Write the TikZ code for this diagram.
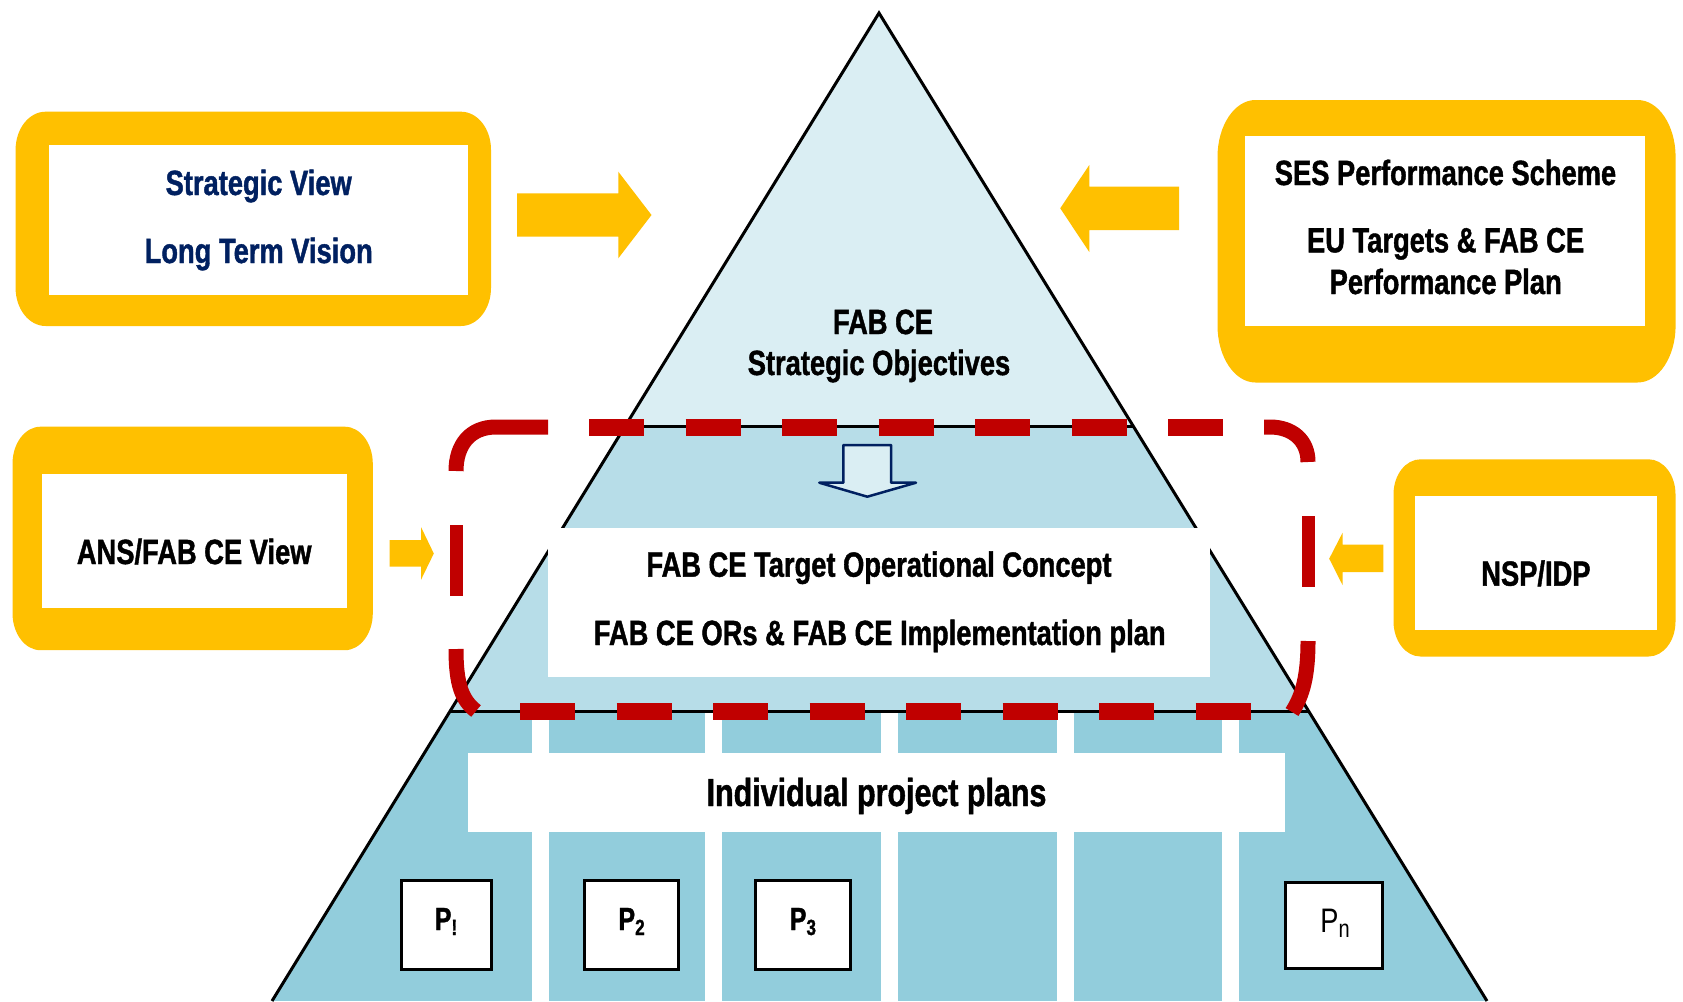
\documentclass[tikz,border=0pt]{standalone}
\usepackage{fontspec}
\setmainfont{Liberation Sans}[FakeStretch=0.78,BoldFeatures={FakeBold=1.2}]
\newfontfamily\pnfont{Liberation Sans}[FakeStretch=0.8]
\definecolor{ycol}{HTML}{FFC000}
\definecolor{rcol}{HTML}{C00000}
\definecolor{navy}{HTML}{002060}
\definecolor{triA}{HTML}{DAEEF3}
\definecolor{triB}{HTML}{B7DDE8}
\definecolor{triC}{HTML}{92CDDC}
% yellow frame with elliptical corners: x1 y1 x2 y2 rx ry
\newcommand\yframe[6]{%
\fill[ycol] ({#1+#5},#2) -- ({#3-#5},#2) .. controls ({#3-0.448*#5},#2) and (#3,{#2+0.448*#6}) .. (#3,{#2+#6})
 -- (#3,{#4-#6}) .. controls (#3,{#4-0.448*#6}) and ({#3-0.448*#5},#4) .. ({#3-#5},#4)
 -- ({#1+#5},#4) .. controls ({#1+0.448*#5},#4) and (#1,{#4-0.448*#6}) .. (#1,{#4-#6})
 -- (#1,{#2+#6}) .. controls (#1,{#2+0.448*#6}) and ({#1+0.448*#5},#2) .. ({#1+#5},#2) -- cycle;}
\newcommand\subb[2]{\raisebox{-#1pt}{\fontsize{22}{22}\selectfont #2}}
\begin{document}
\begin{tikzpicture}[x=1pt,y=-1pt,
  txt/.style={anchor=base, inner sep=0pt, outer sep=0pt, font=\fontsize{35}{40}\selectfont\bfseries},
  wbox/.style={fill=white, inner sep=0pt, outer sep=0pt},
  pbox/.style={draw=black, line width=3pt, fill=white, inner sep=0pt},
  rh/.style={draw=rcol, line width=17pt},
  rv/.style={draw=rcol, line width=13pt},
  rc/.style={draw=rcol, line width=15pt},
  tline/.style={draw=black, line width=3pt},
  yarrow/.style={fill=ycol}]

\useasboundingbox (0,0) rectangle (1683,1001);
\fill[white] (0,0) rectangle (1683,1001);

% pyramid bands
\begin{scope}
\clip (272,1001) -- (879,13) -- (1487,1001) -- cycle;
\fill[triA] (0,0) rectangle (1683,426.5);
\fill[triB] (0,426.5) rectangle (1683,711);
\fill[triC] (0,711) rectangle (1683,1001);
\foreach \a/\b in {532/549,705/722,881/898,1057/1074,1222/1239}
  \fill[white] (\a,712) rectangle (\b,1001);
\draw[tline] (0,426.5) -- (1683,426.5);
\draw[tline] (0,711) -- (1683,711);
\end{scope}
\draw[line width=3pt, line join=miter] (272,1001) -- (879,13) -- (1487,1001);

% inner boxes of the pyramid
\node[wbox, minimum width=662pt, minimum height=149pt] (ops) at (879,602.5) {};
\node[wbox, minimum width=817pt, minimum height=79pt] (ipp) at (876.5,792.5) {};
\node[pbox, minimum width=89.5pt, minimum height=89pt] (p1) at (446.5,924.5) {};
\node[pbox, minimum width=94pt, minimum height=89pt] (p2) at (631.4,924.5) {};
\node[pbox, minimum width=94.7pt, minimum height=89pt] (p3) at (802.9,924.5) {};
\node[pbox, minimum width=96.3pt, minimum height=86pt] (pn) at (1334,925.5) {};

% hollow down arrow
\draw[draw=navy, fill=triA, line width=2.5pt, line join=round]
  (843.3,445) -- (891,445) -- (891,482.7) -- (916,482.7) -- (867.3,496.7)
  -- (819.3,482.7) -- (843.3,482.7) -- cycle;

% red dashed rounded frame
\draw[rc] (456,471) .. controls (456,445) and (470,427) .. (496,427) -- (548,427);
\foreach \a in {589,685.5,782,878.5,975,1071.5,1168} \draw[rh] (\a,427) -- ++(55,0);
\draw[rc] (1264,427) -- (1270,427) .. controls (1292,427) and (1308,440) .. (1308,462);
\draw[rv] (1308,516) -- (1308,587);
\draw[rc] (1308,641) .. controls (1308,675) and (1303,695) .. (1292,712);
\foreach \a in {520,616.5,713,809.5,906,1002.5,1099,1195.5} \draw[rh] (\a,711) -- ++(55,0);
\draw[rc] (456,649) .. controls (456,685) and (462,700) .. (476,711);
\draw[rv] (456,525) -- (456,596);

% yellow frames
\yframe{15.6}{111.7}{491}{326}{30}{38}
\yframe{1217.5}{100}{1675.6}{382.5}{38}{57}
\yframe{12.5}{426.7}{372.8}{650.2}{28}{37}
\yframe{1393.5}{459.3}{1675.5}{656.5}{27}{35}
\node[wbox, minimum width=419pt, minimum height=150pt] (svbox) at (258.5,220) {};
\node[wbox, minimum width=400pt, minimum height=190pt] (sesbox) at (1445,231) {};
\node[wbox, minimum width=305.5pt, minimum height=133.7pt] (ansbox) at (194.25,540.85) {};
\node[wbox, minimum width=241.5pt, minimum height=134pt] (nspbox) at (1535.75,563) {};

% yellow block arrows
\fill[yarrow] (517,193.3) -- (618.3,193.3) -- (618.3,171.7) -- (651.5,215) -- (618.3,258.3) -- (618.3,236.7) -- (517,236.7) -- cycle;
\fill[yarrow] (1179,186.7) -- (1089.3,186.7) -- (1089.3,165) -- (1060.2,208.3) -- (1089.3,252) -- (1089.3,230) -- (1179,230) -- cycle;
\fill[yarrow] (389.5,540) -- (421,540) -- (421,527) -- (433.8,553.5) -- (421,579.8) -- (421,566.5) -- (389.5,566.5) -- cycle;
\fill[yarrow] (1383.4,544.5) -- (1342.5,544.5) -- (1342.5,532.8) -- (1329.2,558.7) -- (1342.5,585) -- (1342.5,572.2) -- (1383.4,572.2) -- cycle;

% texts
\node[txt, text=navy] (t1) at (258.7,195) {Strategic View};
\node[txt, text=navy] (t2) at (258.7,263) {Long Term Vision};
\node[txt] (t3) at (1445.5,185) {SES Performance Scheme};
\node[txt] (t4) at (1445.6,252.3) {EU Targets \& FAB CE};
\node[txt] (t5) at (1445.7,294) {Performance Plan};
\node[txt] (t6) at (883,334) {FAB CE};
\node[txt] (t7) at (879,375) {Strategic Objectives};
\node[txt] (t8) at (194.2,564) {ANS/FAB CE View};
\node[txt] (t9) at (1535.9,585.7) {NSP/IDP};
\node[txt] (t10) at (879,576.7) {FAB CE Target Operational Concept};
\node[txt] (t11) at (879.7,645) {FAB CE ORs \& FAB CE Implementation plan};
\node[txt, font=\fontsize{39}{44}\selectfont\bfseries] (t12) at (876.5,806) {Individual project plans};
\node[txt, font=\fontsize{32}{36}\selectfont\bfseries] (l1) at (446,930) {P\subb{5}{!}};
\node[txt, font=\fontsize{32}{36}\selectfont\bfseries] (l2) at (631.6,930) {P\subb{5}{2}};
\node[txt, font=\fontsize{32}{36}\selectfont\bfseries] (l3) at (802.9,930) {P\subb{5}{3}};
\node[txt, font=\fontsize{34}{38}\selectfont\pnfont\mdseries] (ln) at (1335,932.7) {P\raisebox{-4.6pt}{\fontsize{25}{25}\selectfont n}};
\end{tikzpicture}
\end{document}
